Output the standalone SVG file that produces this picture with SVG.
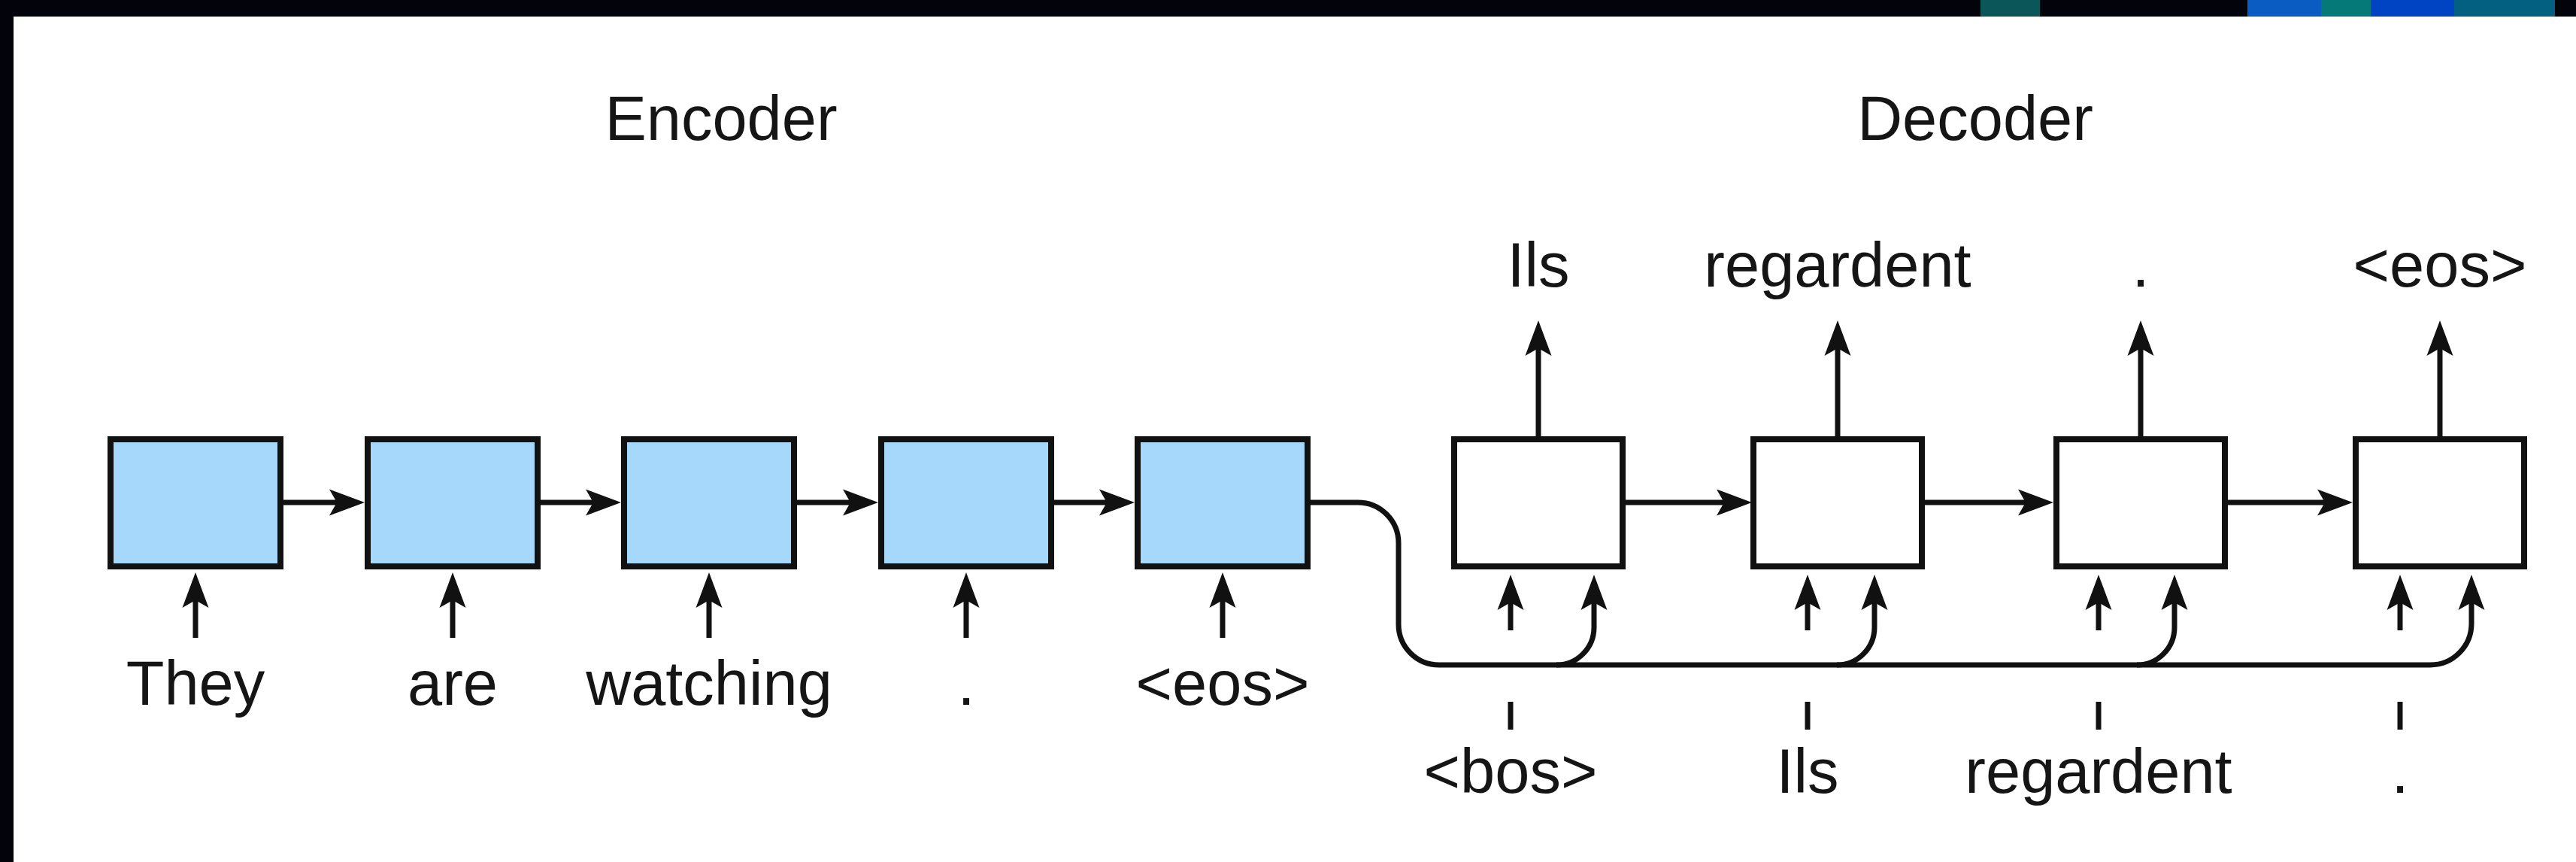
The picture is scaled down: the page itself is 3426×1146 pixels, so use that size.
<svg xmlns="http://www.w3.org/2000/svg" width="3426" height="1146" viewBox="0 0 3426 1146">
  <style>
    .enc { fill: #a6d8fc; stroke: #111; stroke-width: 8; }
    .dec { fill: #ffffff; stroke: #111; stroke-width: 8; }
    .wire { fill: none; stroke: #111; stroke-width: 7; stroke-linecap: butt; }
    .arrow { marker-end: url(#head); }
    .lbl { font-family: "Liberation Sans", Arial, Helvetica, sans-serif; font-size: 83px; fill: #151515; text-anchor: middle; }
  </style>
  <defs>
    <marker id="head" viewBox="0 0 48 38" refX="11" refY="19" markerWidth="48" markerHeight="38" markerUnits="userSpaceOnUse" orient="auto">
      <path d="M48,19 L1,1.5 L11,19 L1,36.5 Z" fill="#111"/>
    </marker>
  </defs>

  <!-- page frame -->
  <rect x="0" y="0" width="3426" height="1146" fill="#ffffff"/>
  <rect x="0" y="0" width="3426" height="22" fill="#03030c"/>
  <rect x="0" y="0" width="18" height="1146" fill="#03030c"/>
  <rect x="2634" y="0" width="79" height="22" fill="#0b5658"/>
  <rect x="2989" y="0" width="98" height="22" fill="#0a5cc2"/>
  <rect x="3087" y="0" width="66" height="22" fill="#057878"/>
  <rect x="3153" y="0" width="111" height="22" fill="#0044c4"/>
  <rect x="3264" y="0" width="134" height="22" fill="#036080"/>

  <!-- section titles -->
  <text class="lbl" x="959" y="186">Encoder</text>
  <text class="lbl" x="2627" y="186">Decoder</text>

  <!-- encoder cells -->
  <g id="enc1"><rect class="enc" x="147" y="584" width="226" height="169"/></g>
  <g id="enc2"><rect class="enc" x="489" y="584" width="226" height="169"/></g>
  <g id="enc3"><rect class="enc" x="830" y="584" width="226" height="169"/></g>
  <g id="enc4"><rect class="enc" x="1172" y="584" width="226" height="169"/></g>
  <g id="enc5"><rect class="enc" x="1513" y="584" width="226" height="169"/></g>

  <!-- decoder cells -->
  <g id="dec1"><rect class="dec" x="1934" y="584" width="224" height="169"/></g>
  <g id="dec2"><rect class="dec" x="2332" y="584" width="224" height="169"/></g>
  <g id="dec3"><rect class="dec" x="2735" y="584" width="224" height="169"/></g>
  <g id="dec4"><rect class="dec" x="3133" y="584" width="224" height="169"/></g>

  <!-- connectors -->
  <g id="connectors">
    <!-- encoder recurrence -->
    <path class="wire arrow" d="M373,668 H448"/>
    <path class="wire arrow" d="M715,668 H789"/>
    <path class="wire arrow" d="M1056,668 H1131"/>
    <path class="wire arrow" d="M1398,668 H1472"/>
    <!-- encoder inputs -->
    <path class="wire arrow" d="M260,848 V798"/>
    <path class="wire arrow" d="M602,848 V798"/>
    <path class="wire arrow" d="M943,848 V798"/>
    <path class="wire arrow" d="M1285,848 V798"/>
    <path class="wire arrow" d="M1626,848 V798"/>
    <!-- context routed into every decoder step -->
    <path class="wire arrow" d="M1739,668 H1806 A54,54 0 0 1 1860,722 V830 A54,54 0 0 0 1914,884 H3232 A55,55 0 0 0 3287,829 V801"/>
    <path class="wire arrow" d="M2070,884 A50,50 0 0 0 2120,834 V801"/>
    <path class="wire arrow" d="M2443,884 A50,50 0 0 0 2493,834 V801"/>
    <path class="wire arrow" d="M2842,884 A50,50 0 0 0 2892,834 V801"/>
    <!-- decoder recurrence -->
    <path class="wire arrow" d="M2158,668 H2293"/>
    <path class="wire arrow" d="M2556,668 H2694"/>
    <path class="wire arrow" d="M2959,668 H3092"/>
    <!-- decoder token inputs -->
    <path class="wire arrow" d="M2009,838 V801"/>
    <path class="wire arrow" d="M2404,838 V801"/>
    <path class="wire arrow" d="M2791,838 V801"/>
    <path class="wire arrow" d="M3192,838 V801"/>
    <!-- decoder outputs -->
    <path class="wire arrow" d="M2046,584 V463"/>
    <path class="wire arrow" d="M2444,584 V463"/>
    <path class="wire arrow" d="M2847,584 V463"/>
    <path class="wire arrow" d="M3245,584 V463"/>
    <!-- feed-back ticks -->
    <path class="wire" d="M2009,933 V970"/>
    <path class="wire" d="M2404,933 V970"/>
    <path class="wire" d="M2791,933 V970"/>
    <path class="wire" d="M3192,933 V970"/>
  </g>

  <!-- encoder tokens -->
  <g id="enc-tokens">
    <text class="lbl" x="260" y="937">They</text>
    <text class="lbl" x="602" y="937">are</text>
    <text class="lbl" x="943" y="937">watching</text>
    <text class="lbl" x="1285" y="937">.</text>
    <text class="lbl" x="1626" y="937">&lt;eos&gt;</text>
  </g>

  <!-- decoder outputs -->
  <g id="dec-outputs">
    <text class="lbl" x="2046" y="381">Ils</text>
    <text class="lbl" x="2444" y="381">regardent</text>
    <text class="lbl" x="2847" y="381">.</text>
    <text class="lbl" x="3245" y="381">&lt;eos&gt;</text>
  </g>

  <!-- decoder inputs -->
  <g id="dec-inputs">
    <text class="lbl" x="2009" y="1054">&lt;bos&gt;</text>
    <text class="lbl" x="2404" y="1054">Ils</text>
    <text class="lbl" x="2791" y="1054">regardent</text>
    <text class="lbl" x="3192" y="1054">.</text>
  </g>
</svg>
